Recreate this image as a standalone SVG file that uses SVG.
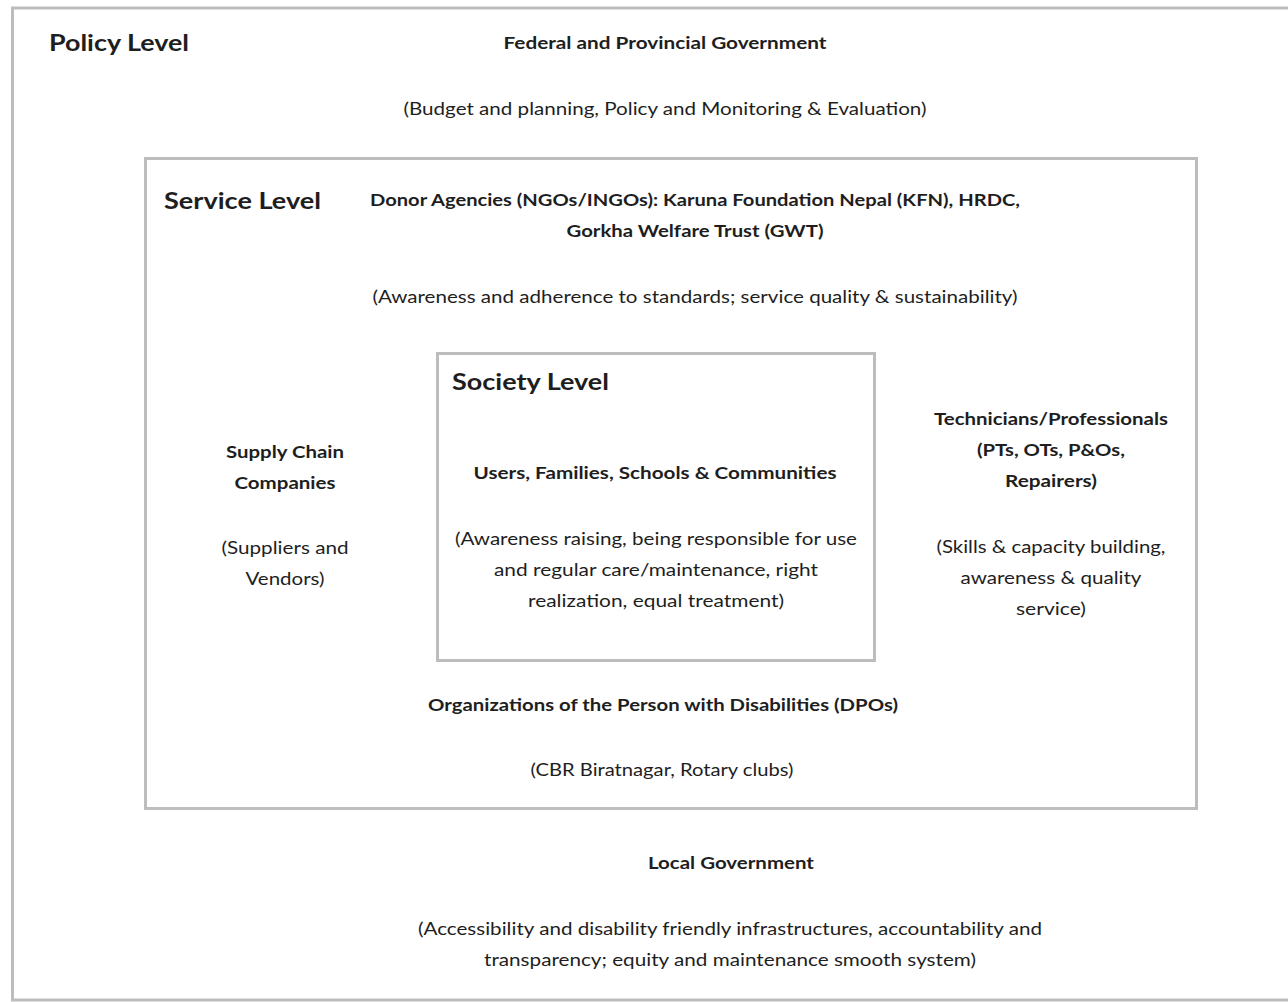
<svg xmlns="http://www.w3.org/2000/svg" width="1288" height="1002" viewBox="0 0 1288 1002">
<style>
text{font-family:Lato,"Open Sans","Liberation Sans",sans-serif;fill:#1e1e1e;}
.t{font-size:17.5px;text-anchor:middle;}
.b{font-weight:bold;}
.h{font-size:23px;font-weight:bold;}
.box{fill:none;stroke:#bdbdbd;stroke-width:3;}
</style>
<rect width="1288" height="1002" fill="#fff"/>
<g id="policy-level">
<rect class="box" x="12.5" y="8" width="1290" height="992" stroke-width="2.5"/>
<text class="h" x="49" y="51" textLength="140" lengthAdjust="spacingAndGlyphs">Policy Level</text>
<text class="t b" x="665" y="49" textLength="323" lengthAdjust="spacingAndGlyphs">Federal and Provincial Government</text>
<text class="t" x="665" y="115" textLength="523" lengthAdjust="spacingAndGlyphs">(Budget and planning, Policy and Monitoring &amp; Evaluation)</text>
<text class="t b" x="731" y="869" textLength="166" lengthAdjust="spacingAndGlyphs">Local Government</text>
<text class="t" x="730" y="935" textLength="624" lengthAdjust="spacingAndGlyphs">(Accessibility and disability friendly infrastructures, accountability and</text>
<text class="t" x="730" y="966" textLength="492" lengthAdjust="spacingAndGlyphs">transparency; equity and maintenance smooth system)</text>
</g>
<g id="service-level">
<rect class="box" x="145.5" y="158.5" width="1051" height="650"/>
<text class="h" x="164" y="209" textLength="157" lengthAdjust="spacingAndGlyphs">Service Level</text>
<text class="t b" x="695" y="206" textLength="650" lengthAdjust="spacingAndGlyphs">Donor Agencies (NGOs/INGOs): Karuna Foundation Nepal (KFN), HRDC,</text>
<text class="t b" x="695" y="237" textLength="257" lengthAdjust="spacingAndGlyphs">Gorkha Welfare Trust (GWT)</text>
<text class="t" x="695" y="303" textLength="645" lengthAdjust="spacingAndGlyphs">(Awareness and adherence to standards; service quality &amp; sustainability)</text>
<text class="t b" x="663" y="711" textLength="470" lengthAdjust="spacingAndGlyphs">Organizations of the Person with Disabilities (DPOs)</text>
<text class="t" x="662" y="776" textLength="263" lengthAdjust="spacingAndGlyphs">(CBR Biratnagar, Rotary clubs)</text>
</g>
<g id="supply-chain">
<text class="t b" x="285" y="458" textLength="118" lengthAdjust="spacingAndGlyphs">Supply Chain</text>
<text class="t b" x="285" y="489" textLength="101" lengthAdjust="spacingAndGlyphs">Companies</text>
<text class="t" x="285" y="554" textLength="127" lengthAdjust="spacingAndGlyphs">(Suppliers and</text>
<text class="t" x="285" y="585" textLength="79" lengthAdjust="spacingAndGlyphs">Vendors)</text>
</g>
<g id="technicians">
<text class="t b" x="1051" y="425" textLength="234" lengthAdjust="spacingAndGlyphs">Technicians/Professionals</text>
<text class="t b" x="1051" y="456" textLength="148" lengthAdjust="spacingAndGlyphs">(PTs, OTs, P&amp;Os,</text>
<text class="t b" x="1051" y="487" textLength="92" lengthAdjust="spacingAndGlyphs">Repairers)</text>
<text class="t" x="1051" y="553" textLength="229" lengthAdjust="spacingAndGlyphs">(Skills &amp; capacity building,</text>
<text class="t" x="1051" y="584" textLength="181" lengthAdjust="spacingAndGlyphs">awareness &amp; quality</text>
<text class="t" x="1051" y="615" textLength="70" lengthAdjust="spacingAndGlyphs">service)</text>
</g>
<g id="society-level">
<rect class="box" x="437.5" y="353.5" width="437" height="307"/>
<text class="h" x="452" y="390" textLength="157" lengthAdjust="spacingAndGlyphs">Society Level</text>
<text class="t b" x="655" y="479" textLength="363" lengthAdjust="spacingAndGlyphs">Users, Families, Schools &amp; Communities</text>
<text class="t" x="656" y="545" textLength="402" lengthAdjust="spacingAndGlyphs">(Awareness raising, being responsible for use</text>
<text class="t" x="656" y="576" textLength="324" lengthAdjust="spacingAndGlyphs">and regular care/maintenance, right</text>
<text class="t" x="656" y="607" textLength="256" lengthAdjust="spacingAndGlyphs">realization, equal treatment)</text>
</g>
<g id="connectors"></g>
</svg>
